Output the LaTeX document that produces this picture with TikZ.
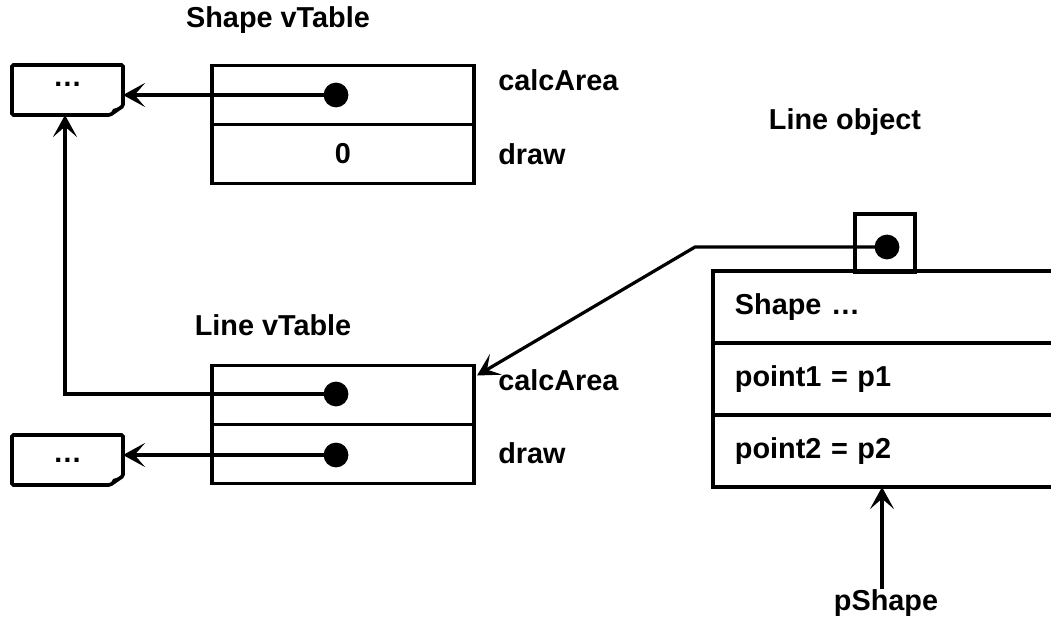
\documentclass[tikz,border=0pt]{standalone}
\usepackage{fontspec}
\setmainfont{Liberation Sans}
\usetikzlibrary{arrows.meta,positioning}
\tikzset{
  vt diagram/.style={font=\bfseries\fontsize{20.5}{24}\selectfont,
    line join=miter},
  vt slot/.style={draw, line width=2.5pt, minimum width=6.55cm,
    minimum height=1.475cm, inner sep=0pt, outer sep=0pt},
  vt note/.style={minimum width=2.775cm, minimum height=1.25cm,
    inner sep=0pt, outer sep=0pt},
  vt dot/.style={circle, fill, minimum size=0.62cm, inner sep=0pt},
  vt arrow/.style={-{Stealth[length=5.5mm,width=6mm,inset=2.6mm]},
    line width=2.3pt},
  vt label/.style={inner sep=0pt},
  obj slot/.style={draw, line width=3.2pt, minimum width=8.8cm,
    minimum height=1.8cm, text width=7.7cm, inner xsep=0.55cm,
    inner ysep=0pt, outer sep=0pt, align=left},
  obj ref/.style={draw, line width=2.4pt, minimum width=1.5cm,
    minimum height=1.45cm, inner sep=0pt, outer sep=0pt}
}
\begin{document}
\begin{tikzpicture}[vt diagram, x=0.025cm, y=-0.025cm]
\clip (0,0) rectangle (1051,623);
% Shape vTable
\node[vt label] (svtitle) at (278,20) {Shape vTable};
\node[vt slot] (sv1) at (343,95) {};
\node[vt slot, below=0pt of sv1] (sv2) {0};
\node[vt label, anchor=west] (svcalc) at (498,80) {calcArea};
\node[vt label, anchor=west] (svdraw) at (498,154) {draw};
\node[vt dot] (sd1) at (336,95) {};
% Line vTable
\node[vt label] (lvtitle) at (273,325) {Line vTable};
\node[vt slot] (lv1) at (343,395) {};
\node[vt slot, below=0pt of lv1] (lv2) {};
\node[vt label, anchor=west] (lvcalc) at (498,380) {calcArea};
\node[vt label, anchor=west] (lvdraw) at (498,453) {draw};
\node[vt dot] (ld1) at (336,394) {};
\node[vt dot] (ld2) at (336,455) {};
% function bodies
\node[vt note] (snote) at (67.5,90) {\raisebox{8.5pt}{…}};
\node[vt note] (lnote) at (67.5,460) {…};
\foreach \n in {snote,lnote} {
  \draw[line width=2.6pt, rounded corners=1pt] (\n.north west) -- (\n.north east)
    -- ([shift={(0,-9)}]\n.south east) -- ([shift={(-13,0)}]\n.south east)
    -- (\n.south west) -- cycle;
  \fill ([shift={(0,-9)}]\n.south east) -- ([shift={(-13,0)}]\n.south east)
    -- ([shift={(-10,-6)}]\n.south east) -- cycle;
}
% Line object
\node[vt label] (objtitle) at (845,122) {Line object};
\node[obj slot] (obj1) at (889,307) {Shape …};
\node[obj slot, below=0pt of obj1] (obj2) {point1 = p1};
\node[obj slot, below=0pt of obj2] (obj3) {point2 = p2};
\node[obj ref] (oref) at (885,243) {};
\node[vt dot] (od) at (887,247) {};
\node[vt label] (pshape) at (886,603) {pShape};
\coordinate (bend) at (695,247);
% pointers
\draw[vt arrow] (sd1.center) -- (sd1 -| snote.east);
\draw[vt arrow] (ld2.center) -- (ld2 -| lnote.east);
\draw[vt arrow] (ld1.center) -| ([shift={(-2.5,0)}]snote.south);
\draw[vt arrow] (od.center) -- (bend) -- ([shift={(3,10)}]lv1.north east);
\draw[vt arrow, line width=3pt] ([shift={(-4,0)}]pshape.north) -- ([shift={(-4,0)}]pshape.north |- obj3.south);
\end{tikzpicture}
\end{document}
